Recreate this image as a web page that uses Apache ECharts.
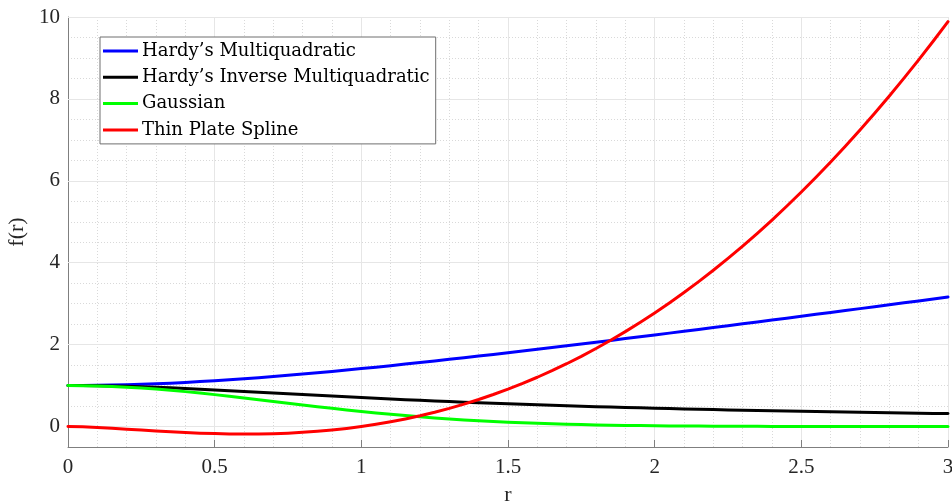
<!DOCTYPE html>
<html>
<head>
<meta charset="utf-8">
<script src="https://cdn.jsdelivr.net/npm/echarts@6/dist/echarts.min.js"></script>
<style>
  html, body { margin: 0; padding: 0; background: #fff; }
  #chart { width: 952px; height: 503px; }
</style>
</head>
<body>
<div id="chart"></div>
<script>
// Radial basis functions sampled at r = 0, 0.05, ..., 3
const r = [0, 0.05, 0.1, 0.15, 0.2, 0.25, 0.3, 0.35, 0.4, 0.45, 0.5, 0.55, 0.6, 0.65, 0.7, 0.75,
  0.8, 0.85, 0.9, 0.95, 1.0, 1.05, 1.1, 1.15, 1.2, 1.25, 1.3, 1.35, 1.4, 1.45, 1.5, 1.55,
  1.6, 1.65, 1.7, 1.75, 1.8, 1.85, 1.9, 1.95, 2.0, 2.05, 2.1, 2.15, 2.2, 2.25, 2.3, 2.35,
  2.4, 2.45, 2.5, 2.55, 2.6, 2.65, 2.7, 2.75, 2.8, 2.85, 2.9, 2.95, 3.0];

const multiquadratic = [1.0000, 1.0012, 1.0050, 1.0112, 1.0198, 1.0308, 1.0440, 1.0595, 1.0770,
  1.0966, 1.1180, 1.1413, 1.1662, 1.1927, 1.2207, 1.2500, 1.2806, 1.3124, 1.3454, 1.3793,
  1.4142, 1.4500, 1.4866, 1.5240, 1.5620, 1.6008, 1.6401, 1.6800, 1.7205, 1.7614, 1.8028,
  1.8446, 1.8868, 1.9294, 1.9723, 2.0156, 2.0591, 2.1030, 2.1471, 2.1915, 2.2361, 2.2809,
  2.3259, 2.3712, 2.4166, 2.4622, 2.5080, 2.5539, 2.6000, 2.6462, 2.6926, 2.7391, 2.7857,
  2.8324, 2.8792, 2.9262, 2.9732, 3.0204, 3.0676, 3.1149, 3.1623];

const inverseMultiquadratic = [1.0000, 0.9988, 0.9950, 0.9889, 0.9806, 0.9701, 0.9578, 0.9439,
  0.9285, 0.9119, 0.8944, 0.8762, 0.8575, 0.8384, 0.8192, 0.8000, 0.7809, 0.7619, 0.7433,
  0.7250, 0.7071, 0.6897, 0.6727, 0.6562, 0.6402, 0.6247, 0.6097, 0.5952, 0.5812, 0.5677,
  0.5547, 0.5421, 0.5300, 0.5183, 0.5070, 0.4961, 0.4856, 0.4755, 0.4657, 0.4563, 0.4472,
  0.4384, 0.4299, 0.4217, 0.4138, 0.4061, 0.3987, 0.3916, 0.3846, 0.3779, 0.3714, 0.3651,
  0.3590, 0.3531, 0.3473, 0.3417, 0.3363, 0.3311, 0.3260, 0.3210, 0.3162];

const gaussian = [1.0000, 0.9975, 0.9900, 0.9778, 0.9608, 0.9394, 0.9139, 0.8847, 0.8521,
  0.8167, 0.7788, 0.7390, 0.6977, 0.6554, 0.6126, 0.5698, 0.5273, 0.4855, 0.4449, 0.4056,
  0.3679, 0.3321, 0.2982, 0.2665, 0.2369, 0.2096, 0.1845, 0.1616, 0.1409, 0.1222, 0.1054,
  0.0905, 0.0773, 0.0657, 0.0556, 0.0468, 0.0392, 0.0326, 0.0271, 0.0223, 0.0183, 0.0150,
  0.0122, 0.0098, 0.0079, 0.0063, 0.0050, 0.0040, 0.0032, 0.0025, 0.0019, 0.0015, 0.0012,
  0.0009, 0.0007, 0.0005, 0.0004, 0.0003, 0.0002, 0.0002, 0.0001];

const thinPlateSpline = [0.0000, -0.0075, -0.0230, -0.0427, -0.0644, -0.0866, -0.1084, -0.1286,
  -0.1466, -0.1617, -0.1733, -0.1809, -0.1839, -0.1820, -0.1748, -0.1618, -0.1428, -0.1174,
  -0.0853, -0.0463, 0.0000, 0.0538, 0.1153, 0.1848, 0.2625, 0.3487, 0.4434, 0.5469, 0.6595,
  0.7812, 0.9122, 1.0529, 1.2032, 1.3634, 1.5335, 1.7138, 1.9044, 2.1055, 2.3171, 2.5394,
  2.7726, 3.0167, 3.2719, 3.5384, 3.8162, 4.1053, 4.4062, 4.7185, 5.0427, 5.3788, 5.7268,
  6.0869, 6.4592, 6.8439, 7.2410, 7.6502, 8.0723, 8.5069, 8.9544, 9.4145, 9.8875];

const seriesNames = ["Hardy\u2019s Multiquadratic", "Hardy\u2019s Inverse Multiquadratic", "Gaussian", "Thin Plate Spline"];
const seriesColors = ["#0000ff", "#000000", "#00ff00", "#ff0000"];
const seriesValues = [multiquadratic, inverseMultiquadratic, gaussian, thinPlateSpline];

// Labelled y levels; they also carry the solid major grid lines
const yMajorTicks = [0, 2, 4, 6, 8, 10];

const AXIS_FONT = "Liberation Serif";
const LEGEND_FONT = "DejaVu Serif";
const chart = echarts.init(document.getElementById("chart"), null, { renderer: "canvas" });

const lines = seriesNames.map((name, k) => ({
  name: name,
  type: "line",
  data: r.map((x, i) => [x, seriesValues[k][i]]),
  smooth: false,
  showSymbol: false,
  symbol: "none",
  clip: true,
  z: 3,
  lineStyle: { color: seriesColors[k], width: 3, join: "round", cap: "round" },
  itemStyle: { color: seriesColors[k] },
  emphasis: { disabled: true }
}));

// Solid major grid lines along y, kept beneath the curves and the legend
lines.push({
  name: "_grid",
  type: "line",
  data: [],
  z: 1,
  silent: true,
  markLine: {
    z: 1,
    silent: true,
    symbol: "none",
    animation: false,
    label: { show: false },
    lineStyle: { color: "#e6e6e6", type: "solid", width: 1 },
    data: yMajorTicks.map(v => ({ yAxis: v }))
  }
});

chart.setOption({
  animation: false,
  backgroundColor: "#ffffff",
  grid: { left: 68, right: 4, top: 17, bottom: 56, containLabel: false, outerBoundsMode: "none" },
  legend: {
    z: 10,
    data: seriesNames.map((n, k) => ({ name: n, icon: "rect", itemStyle: { color: seriesColors[k] } })),
    orient: "vertical",
    left: 100,
    top: 37,
    padding: [4, 6, 4, 3],
    itemGap: 6.3,
    itemWidth: 35,
    itemHeight: 3,
    backgroundColor: "#ffffff",
    borderColor: "#6e6e6e",
    borderWidth: 1,
    borderRadius: 0,
    selectedMode: false,
    textStyle: { fontFamily: LEGEND_FONT, fontSize: 18, color: "#000", lineHeight: 20, padding: [0, 0, 0, -1] }
  },
  xAxis: {
    type: "value",
    min: 0,
    max: 3,
    interval: 0.5,
    name: "r",
    nameLocation: "middle",
    nameGap: 37,
    nameTextStyle: { fontFamily: AXIS_FONT, fontSize: 22, color: "#262626" },
    axisLine: { show: true, onZero: false, lineStyle: { color: "#7f7f7f", width: 1 } },
    axisTick: { show: true, inside: true, length: 7, lineStyle: { color: "#7f7f7f" } },
    axisLabel: { fontFamily: AXIS_FONT, fontSize: 21, color: "#262626", margin: 10,
                 formatter: v => String(v) },
    splitLine: { show: true, lineStyle: { color: "#e6e6e6", width: 1, type: "solid" } },
    minorTick: { show: false, splitNumber: 5 },
    minorSplitLine: { show: true, lineStyle: { color: "#d9d9d9", width: 1, type: [1, 2] } }
  },
  yAxis: {
    type: "value",
    min: -0.5,
    max: 10,
    interval: 0.5,
    name: "f(r)",
    nameLocation: "middle",
    nameGap: 33,
    nameRotate: 90,
    nameTextStyle: { fontFamily: AXIS_FONT, fontSize: 22, color: "#262626" },
    axisLine: { show: true, lineStyle: { color: "#7f7f7f", width: 1 } },
    axisTick: { show: false },
    axisLabel: { fontFamily: AXIS_FONT, fontSize: 21, color: "#262626", margin: 8,
                 showMinLabel: true, showMaxLabel: true,
                 formatter: v => (yMajorTicks.indexOf(v) >= 0 ? String(v) : "") },
    splitLine: { show: true, lineStyle: { color: "#d9d9d9", width: 1, type: [1, 2] } }
  },
  series: lines
});
</script>
</body>
</html>
